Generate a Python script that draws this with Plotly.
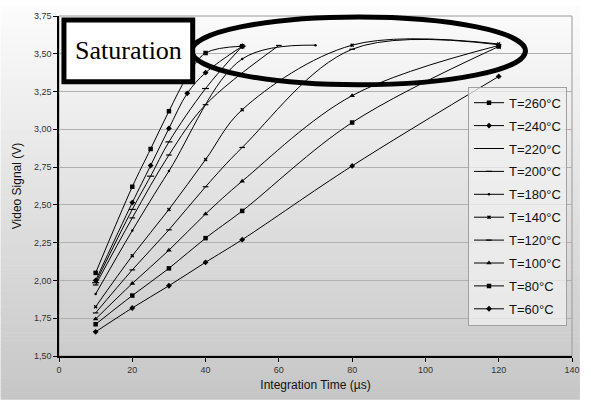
import plotly.graph_objects as go

# Integration time (µs) and video signal (V) for each sensor temperature
x_260 = [10, 20, 25, 30, 35, 40, 50]
y_260 = [2.05, 2.62, 2.87, 3.12, 3.35, 3.505, 3.55]
x_240 = [10, 20, 25, 30, 35, 40, 50]
y_240 = [2.00, 2.515, 2.76, 3.006, 3.238, 3.375, 3.55]
x_220 = [10, 20, 25, 30, 40, 50]
y_220 = [1.985, 2.47, 2.69, 2.917, 3.27, 3.55]
x_200 = [10, 20, 30, 40, 60]
y_200 = [1.97, 2.414, 2.83, 3.163, 3.555]
x_180 = [10, 20, 30, 50, 70]
y_180 = [1.91, 2.33, 2.724, 3.466, 3.557]
x_140 = [10, 20, 30, 40, 50, 80, 120]
y_140 = [1.826, 2.163, 2.47, 2.80, 3.13, 3.557, 3.565]
x_120 = [10, 20, 30, 40, 50, 80, 120]
y_120 = [1.785, 2.07, 2.335, 2.62, 2.88, 3.53, 3.56]
x_100 = [10, 20, 30, 40, 50, 80, 120]
y_100 = [1.745, 1.98, 2.20, 2.44, 2.657, 3.223, 3.555]
x_80 = [10, 20, 30, 40, 50, 80, 120]
y_80 = [1.71, 1.90, 2.08, 2.28, 2.46, 3.045, 3.548]
x_60 = [10, 20, 30, 40, 50, 80, 120]
y_60 = [1.66, 1.818, 1.965, 2.12, 2.27, 2.758, 3.35]

labels = ["T=260°C", "T=240°C", "T=220°C", "T=200°C", "T=180°C",
          "T=140°C", "T=120°C", "T=100°C", "T=80°C", "T=60°C"]
xs = [x_260, x_240, x_220, x_200, x_180, x_140, x_120, x_100, x_80, x_60]
ys = [y_260, y_240, y_220, y_200, y_180, y_140, y_120, y_100, y_80, y_60]

y_ticks = [1.50, 1.75, 2.00, 2.25, 2.50, 2.75, 3.00, 3.25, 3.50, 3.75]
x_ticks = [0, 20, 40, 60, 80, 100, 120, 140]

symbols = ["square", "diamond", "line-ew-open", "line-ew-open", "circle",
           "x", "line-ew-open", "triangle-up", "square", "diamond"]
sizes = [4.5, 4.5, 5, 4, 2.5, 3.5, 4, 5, 4.5, 4.5]
edge = [0, 0, 1.2, 1.2, 0, 0, 1.2, 0, 0, 0]

W, H = 591, 401
L, R, T, B = 59, 14, 11, 44
PW, PH = W - L - R, H - T - B


def px_x(p):
    return (p - L) / PW


def px_y(p):
    return (H - B - p) / PH


fig = go.Figure()
for i, (lab, xv, yv) in enumerate(zip(labels, xs, ys)):
    fig.add_trace(go.Scatter(
        x=xv, y=yv, name=lab, mode="lines+markers",
        line=dict(color="black", width=1, shape="spline", smoothing=1.0),
        marker=dict(symbol=symbols[i], size=sizes[i], color="black",
                    line=dict(color="black", width=edge[i])),
        legendgroup=lab,
    ))

shapes = []
# vertical grey gradient behind everything
n = 100
for k in range(n):
    y0 = H * k / n
    y1 = H * (k + 1) / n + 0.6
    g = int(round(252 - (252 - 198) * (k + 0.5) / n))
    shapes.append(dict(
        type="rect", xref="paper", yref="paper", layer="below",
        x0=px_x(0), x1=px_x(585), y0=px_y(y1), y1=px_y(y0),
        line=dict(width=0), fillcolor=f"rgb({g},{g},{g})"))
# plot area frame (top/right grey)
shapes.append(dict(type="rect", xref="paper", yref="paper", layer="below",
                   x0=0, x1=1, y0=0, y1=1,
                   line=dict(color="#9a9a9a", width=1)))
# highlight ellipse around the saturated region
shapes.append(dict(type="circle", xref="paper", yref="paper", layer="above",
                   x0=px_x(193), x1=px_x(530), y0=px_y(81), y1=px_y(12),
                   line=dict(color="black", width=5)))
# label box
shapes.append(dict(type="rect", xref="paper", yref="paper", layer="above",
                   x0=px_x(64), x1=px_x(194), y0=px_y(78), y1=px_y(15),
                   fillcolor="white", line=dict(color="black", width=5)))

fig.update_layout(
    width=W, height=H,
    margin=dict(l=L, r=R, t=T, b=B),
    paper_bgcolor="white",
    plot_bgcolor="rgba(0,0,0,0)",
    separators=",.",
    font=dict(family="Liberation Sans, Arial, sans-serif", color="#222222"),
    shapes=shapes,
    showlegend=True,
    legend=dict(
        x=px_x(472), y=px_y(83), xanchor="left", yanchor="top",
        bgcolor="rgba(240,240,240,0.75)", bordercolor="#a0a0a0", borderwidth=1,
        font=dict(size=13, color="#111111"),
        traceorder="grouped", tracegroupgap=3,
        itemwidth=30,
    ),
    annotations=[dict(
        text="Saturation", xref="paper", yref="paper",
        x=px_x(129), y=px_y(46), xanchor="center", yanchor="middle",
        showarrow=False,
        font=dict(family="Liberation Serif, Times New Roman, serif",
                  size=26, color="black"),
    )],
    xaxis=dict(
        range=[0, 140], tickvals=x_ticks, ticks="outside", ticklen=4,
        tickcolor="black", showline=True, linecolor="black", linewidth=1.5,
        showgrid=False, zeroline=False,
        tickfont=dict(size=9, color="#333333"),
        title=dict(text="Integration Time (µs)", standoff=7,
                   font=dict(size=12, color="#111111")),
    ),
    yaxis=dict(
        range=[1.5, 3.75], tickvals=y_ticks, tickformat=".2f",
        ticks="outside", ticklen=4, tickcolor="black",
        showline=True, linecolor="black", linewidth=1.5,
        showgrid=True, gridcolor="#b0b0b0", gridwidth=1, zeroline=False,
        tickfont=dict(size=9, color="#333333"),
        title=dict(text="Video Signal (V)", standoff=10,
                   font=dict(size=12, color="#111111")),
    ),
)

fig.write_html("out.html")
